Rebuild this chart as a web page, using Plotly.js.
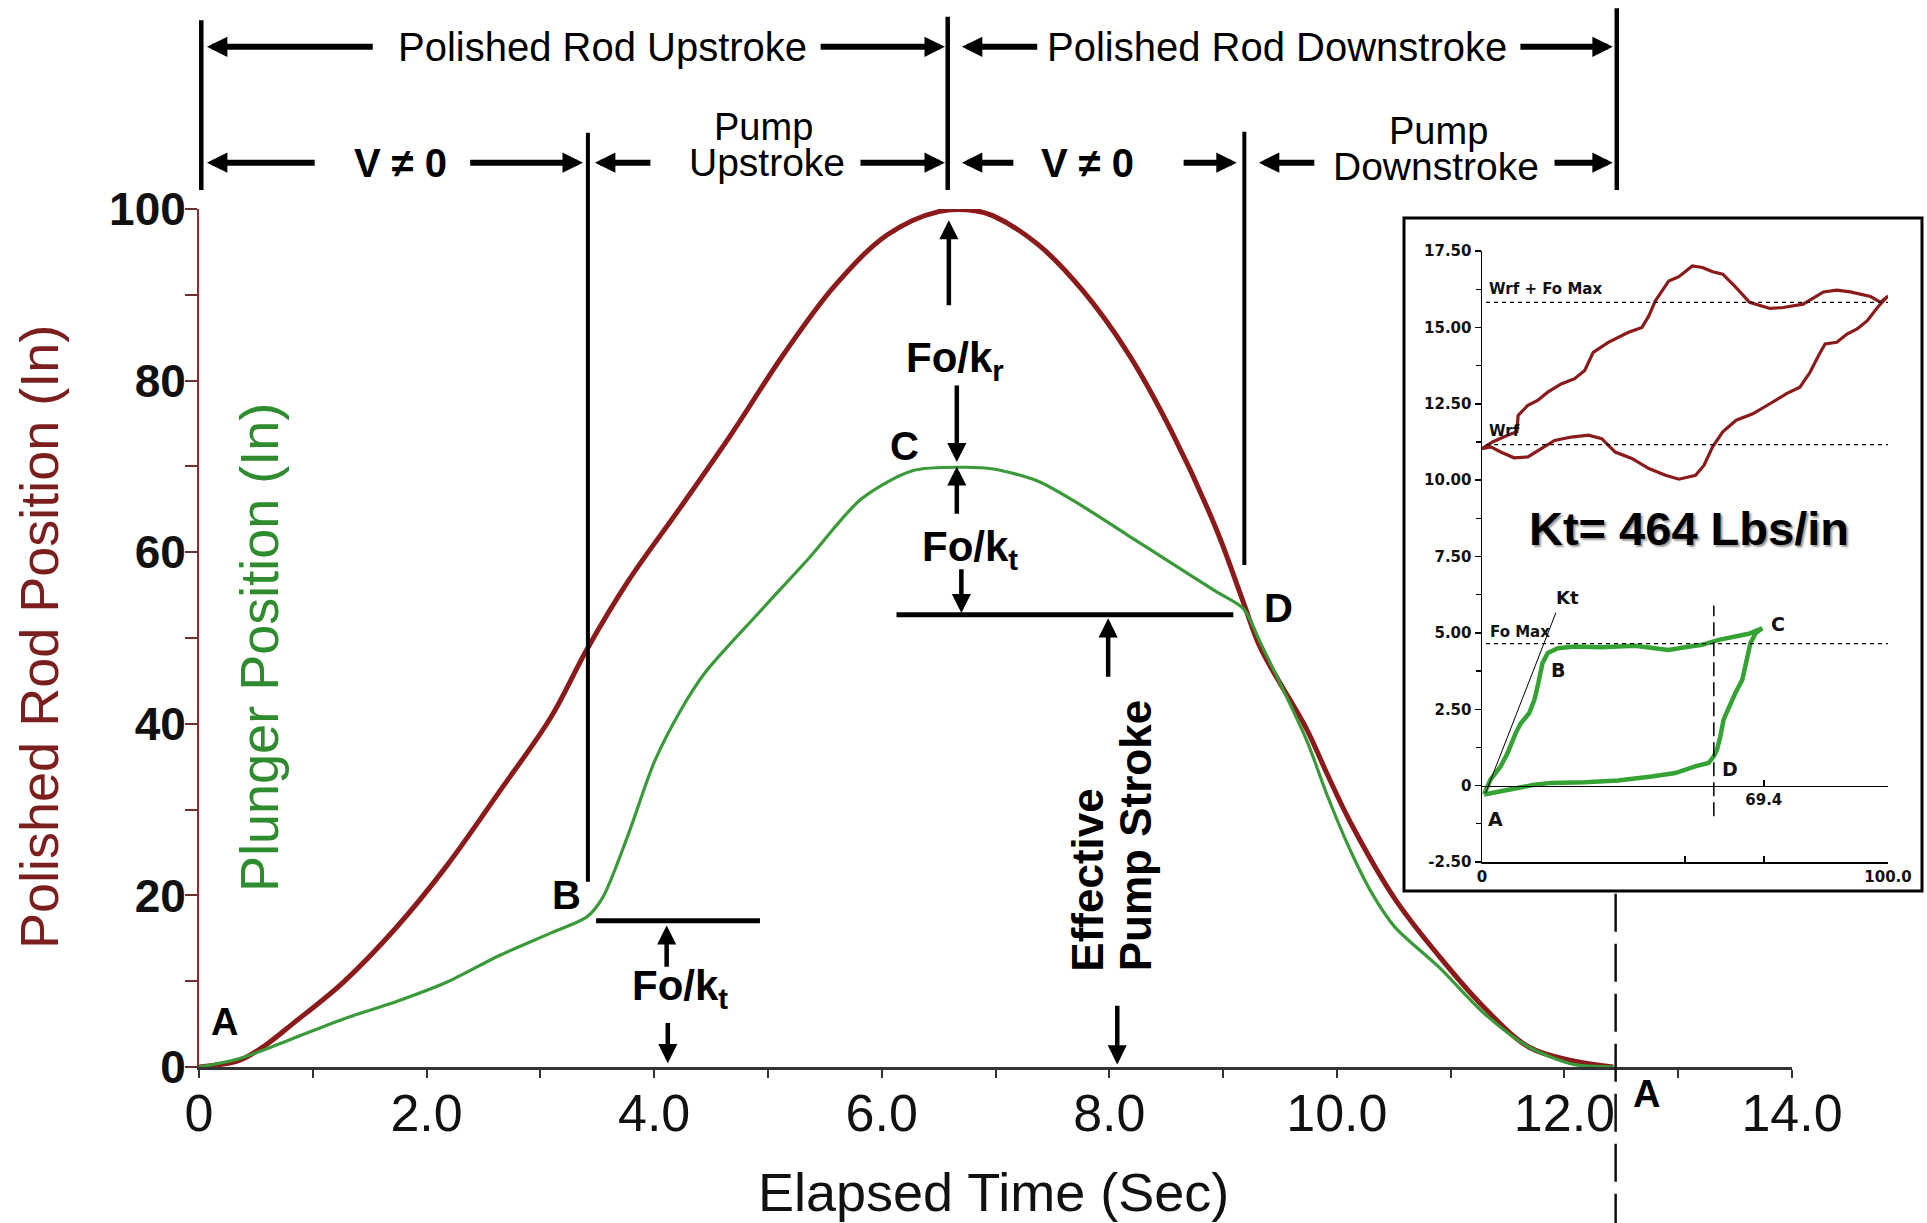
<!DOCTYPE html>
<html><head><meta charset="utf-8">
<script src="https://cdn.plot.ly/plotly-3.0.1.min.js"></script>
<style>html,body{margin:0;padding:0;background:#fff}#chart{width:1927px;height:1223px}</style>
</head><body><div id="chart"></div>
<script>
// ---------- main chart data ----------
const rodTime = [0, 0.36, 0.59, 0.82, 1.27, 1.73, 2.18, 2.64, 3.09, 3.41, 3.77, 4.23, 4.68, 5.14, 5.59, 6.05, 6.5, 6.82, 6.98, 7.37, 7.76, 8.16, 8.55, 8.94, 9.18, 9.33, 9.73, 9.92, 10.12, 10.51, 10.9, 11.29, 11.69, 12.08, 12.43];
const rodPosition = [0, 0.8, 2.6, 5.0, 9.9, 16.2, 23.5, 32.1, 40.7, 48.7, 56.6, 65.2, 73.8, 83.1, 91.1, 97.0, 99.7, 99.8, 99.2, 95.9, 90.6, 83.3, 74.0, 62.7, 54.1, 48.8, 39.5, 34.0, 28.5, 19.6, 12.9, 7.0, 2.3, 0.7, 0];
const plungerTime = [0, 0.36, 0.82, 1.27, 1.73, 2.18, 2.64, 3.09, 3.41, 3.55, 3.77, 4.0, 4.23, 4.45, 4.91, 5.36, 5.82, 6.27, 6.73, 6.98, 7.37, 7.76, 8.16, 8.55, 8.94, 9.18, 9.33, 9.73, 9.92, 10.12, 10.31, 10.51, 10.9, 11.29, 11.69, 12.08, 12.43];
const plungerPosition = [0, 1.0, 3.3, 5.6, 7.6, 9.9, 13.0, 15.6, 17.5, 19.8, 27.0, 35.5, 41.5, 46.0, 52.8, 59.3, 66.2, 69.5, 69.9, 69.7, 68.3, 65.4, 62.0, 58.7, 55.4, 53.4, 49.4, 38.2, 31.5, 25.2, 20.2, 16.3, 11.6, 6.3, 2.3, 0.3, 0];
const xTickVals = [0, 2, 4, 6, 8, 10, 12, 14];
const xTickText = ['0', '2.0', '4.0', '6.0', '8.0', '10.0', '12.0', '14.0'];
const yTickVals = [0, 20, 40, 60, 80, 100];

// ---------- inset (dynamometer cards) data ----------
const surfaceUpX = [0, 2.6, 6.3, 8.6, 8.9, 11.3, 13.7, 16.2, 19.5, 22.8, 25.3, 27.4, 31.1, 36.1, 39.4, 41.1, 42.7, 46.0, 48.5, 51.8, 54.3, 56.8, 59.3, 62.6, 65.9, 70.9, 74.2, 79.1, 84.1, 87.4, 90.7, 95.7, 98.2, 100];
const surfaceUpLoad = [11.03, 11.25, 11.47, 11.58, 12.12, 12.45, 12.61, 12.88, 13.15, 13.32, 13.59, 14.18, 14.51, 14.84, 15.0, 15.38, 15.87, 16.52, 16.66, 17.01, 16.96, 16.82, 16.74, 16.3, 15.82, 15.62, 15.65, 15.76, 16.16, 16.22, 16.16, 16.01, 15.82, 16.03];
const surfaceDownX = [100, 97.4, 94.9, 92.4, 89.9, 87.4, 84.5, 82.9, 80.8, 78.3, 75.0, 70.9, 66.7, 62.6, 59.3, 56.8, 54.7, 52.6, 48.5, 45.2, 41.1, 36.9, 32.8, 29.5, 26.2, 22.0, 17.9, 14.6, 11.3, 7.9, 4.6, 2.2, 0];
const surfaceDownLoad = [16.03, 15.65, 15.22, 14.95, 14.78, 14.51, 14.46, 14.08, 13.53, 13.04, 12.83, 12.5, 12.17, 11.96, 11.58, 11.09, 10.49, 10.16, 10.03, 10.16, 10.38, 10.71, 10.92, 11.36, 11.47, 11.41, 11.3, 11.03, 10.76, 10.73, 10.92, 11.09, 11.03];
const pumpX = [0.5, 2.1, 4.6, 6.3, 8.3, 9.6, 11.6, 12.9, 13.7, 14.5, 14.9, 16.2, 18.7, 22.8, 29.4, 37.7, 42.6, 45.9, 50.0, 54.2, 58.3, 62.4, 65.7, 69.0, 67.4, 66.1, 64.9, 64.1, 62.4, 60.8, 59.5, 58.7, 57.9, 57.1, 55.8, 52.5, 47.6, 41.8, 33.5, 25.3, 17.0, 12.9, 6.3, 0.5];
const pumpLoad = [-0.29, 0.2, 0.63, 1.07, 1.72, 2.05, 2.37, 2.81, 3.25, 3.68, 4.01, 4.34, 4.5, 4.55, 4.53, 4.58, 4.5, 4.44, 4.53, 4.61, 4.77, 4.88, 4.97, 5.15, 4.99, 4.66, 3.9, 3.46, 3.03, 2.59, 2.16, 1.61, 1.18, 0.96, 0.74, 0.63, 0.41, 0.3, 0.17, 0.11, 0.09, 0.03, -0.13, -0.29];
const insetYTickVals = [-2.5, 0, 2.5, 5, 7.5, 10, 12.5, 15, 17.5];
const insetYTickText = ['-2.50', '0', '2.50', '5.00', '7.50', '10.00', '12.50', '15.00', '17.50'];
const wrfLoad = 11.16, wrfFoMaxLoad = 15.82, foMaxLoad = 4.65;
const effectiveStrokeStart = 57.1, effectiveStrokeLabel = 69.4;

// ---------- layout geometry ----------
const W = 1927, H = 1223;
const xDom = [199 / W, 1792 / W];
const yDom = [1 - 1067 / H, 1 - 209 / H];
const x2Dom = [1482 / W, 1888 / W];
const y2Dom = [1 - 862 / H, 1 - 251 / H];
const vp = v => yDom[0] + v / 100 * (yDom[1] - yDom[0]);
const zeroPos = y2Dom[0] + 2.5 / 20 * (y2Dom[1] - y2Dom[0]);

const RED = '#8B1A1A', GREEN = '#3A9A3A', INSET_GREEN = '#34A334';
const SANS = 'Liberation Sans, Arial, sans-serif';
const DJ = 'DejaVu Sans, Verdana, sans-serif';

const traces = [
  {x: rodTime, y: rodPosition, mode: 'lines', line: {color: RED, width: 5, shape: 'spline', smoothing: 1}, hoverinfo: 'skip'},
  {x: plungerTime, y: plungerPosition, mode: 'lines', line: {color: GREEN, width: 3.2, shape: 'spline', smoothing: 0.8}, hoverinfo: 'skip'},
  {x: surfaceUpX.concat(surfaceDownX), y: surfaceUpLoad.concat(surfaceDownLoad), xaxis: 'x2', yaxis: 'y2', mode: 'lines', line: {color: RED, width: 3.2}, hoverinfo: 'skip'},
  {x: pumpX, y: pumpLoad, xaxis: 'x2', yaxis: 'y2', mode: 'lines', line: {color: INSET_GREEN, width: 4.5}, hoverinfo: 'skip'},
  {x: [], y: [], xaxis: 'x3', yaxis: 'y2', mode: 'lines', hoverinfo: 'skip'}
];

function txt(t, v, text, size, extra) {
  return Object.assign({xref: 'x', yref: 'paper', x: t, y: vp(v), text: text, showarrow: false,
    xanchor: 'center', yanchor: 'middle',
    font: {family: SANS, size: size, color: '#000'}}, extra || {});
}
function bold(t, v, text, size, extra) {
  const a = txt(t, v, text, size, extra);
  a.font.weight = 'bold';
  return a;
}
function hArrow(headT, tailT, v) {
  return {xref: 'x', yref: 'paper', x: headT, y: vp(v), axref: 'x', ax: tailT, ayref: 'pixel', ay: 0,
    text: '', showarrow: true, arrowhead: 2, arrowsize: 0.68, arrowwidth: 6, arrowcolor: '#000', standoff: 0, startstandoff: 0};
}
function vArrow(t, headV, tailV) {
  return {xref: 'x', yref: 'y', x: t, y: headV, axref: 'x', ax: t, ayref: 'y', ay: tailV,
    text: '', showarrow: true, arrowhead: 2, arrowsize: 0.85, arrowwidth: 4.5, arrowcolor: '#000', standoff: 0, startstandoff: 0};
}
function vLine(t, v0, v1, w) {
  return {type: 'line', xref: 'x', yref: 'paper', x0: t, x1: t, y0: vp(v0), y1: vp(v1), line: {color: '#000', width: w || 4.5}};
}
function it(x, y, text, size, extra) {
  return Object.assign({xref: 'x2', yref: 'y2', x: x, y: y, text: text, showarrow: false,
    xanchor: 'center', yanchor: 'middle',
    font: {family: DJ, size: size, color: '#111', weight: 'bold'}}, extra || {});
}
function paperTxt(px, py, text, size, color, extra) {
  return Object.assign({xref: 'paper', yref: 'paper', x: px / W, y: 1 - py / H, text: text, showarrow: false,
    xanchor: 'center', yanchor: 'middle',
    font: {family: SANS, size: size, color: color}}, extra || {});
}

const annotations = [
  // top brackets
  txt(3.55, 118.9, 'Polished Rod Upstroke', 40),
  txt(9.47, 118.9, 'Polished Rod Downstroke', 40),
  hArrow(0.07, 1.54, 118.9), hArrow(6.555, 5.45, 118.9),
  hArrow(6.705, 7.38, 118.9), hArrow(12.425, 11.6, 118.9),
  bold(1.77, 105.4, 'V ≠ 0', 40),
  bold(7.81, 105.4, 'V ≠ 0', 40),
  txt(4.965, 109.6, 'Pump', 38), txt(4.99, 105.4, 'Upstroke', 39),
  txt(10.89, 109.1, 'Pump', 38), txt(10.87, 104.9, 'Downstroke', 39),
  hArrow(0.07, 1.03, 105.4), hArrow(3.374, 2.37, 105.4),
  hArrow(3.48, 3.98, 105.4), hArrow(6.555, 5.8, 105.4),
  hArrow(6.705, 7.17, 105.4), hArrow(9.12, 8.64, 105.4),
  hArrow(9.315, 9.815, 105.4), hArrow(12.425, 11.9, 105.4),
  // in-plot arrows and labels
  vArrow(6.59, 98.7, 88.6),
  bold(6.64, 82.4, 'Fo/k<sub>r</sub>', 42),
  vArrow(6.66, 70.5, 79.6),
  bold(6.2, 72.4, 'C', 40),
  vArrow(6.66, 70.0, 64.3),
  bold(6.78, 60.3, 'Fo/k<sub>t</sub>', 42),
  vArrow(6.70, 52.9, 58.2),
  bold(9.49, 53.5, 'D', 40),
  vArrow(7.99, 52.3, 45.3),
  bold(7.81, 21.8, 'Effective', 44, {textangle: -90}),
  bold(8.225, 27.0, 'Pump Stroke', 44, {textangle: -90}),
  vArrow(8.07, 0.3, 7.3),
  bold(3.23, 20.0, 'B', 40),
  vArrow(4.11, 16.5, 11.5),
  bold(4.23, 9.1, 'Fo/k<sub>t</sub>', 42),
  vArrow(4.12, 0.45, 5.3),
  bold(0.22, 5.2, 'A', 38),
  bold(12.72, -3.1, 'A', 38),
  // axis titles
  paperTxt(993, 1192, 'Elapsed Time (Sec)', 54, '#111'),
  paperTxt(39, 637, 'Polished Rod Position (In)', 54, '#7A1E1E', {textangle: -90}),
  paperTxt(259, 648, 'Plunger Position (In)', 54, '#2E8B2E', {textangle: -90}),
  // inset labels
  it(1.3, 16.25, 'Wrf + Fo Max', 15, {xanchor: 'left'}),
  it(1.3, 11.6, 'Wrf', 15, {xanchor: 'left'}),
  it(1.5, 5.04, 'Fo Max', 15, {xanchor: 'left'}),
  it(21.1, 6.17, 'Kt', 18),
  it(18.7, 3.8, 'B', 19),
  it(73.0, 5.3, 'C', 19),
  it(61.2, 0.55, 'D', 19),
  it(3.4, -1.1, 'A', 19),
  {xref: 'x2', yref: 'y2', x: 51, y: 8.42, text: 'Kt= 464 Lbs/in', showarrow: false, xanchor: 'center', yanchor: 'middle',
   font: {family: SANS, size: 47, color: '#000', weight: 'bold', shadow: '2px 2px 2px #999'}}
];

const shapes = [
  // inset frame (behind everything)
  {type: 'rect', xref: 'paper', yref: 'paper', x0: 1404 / W, x1: 1922 / W, y0: 1 - 891 / H, y1: 1 - 218 / H,
   fillcolor: '#fff', line: {color: '#000', width: 3}, layer: 'below'},
  // bracket verticals
  vLine(0.02, 122.0, 102.2), vLine(6.58, 122.4, 102.2), vLine(12.46, 123.4, 102.2),
  vLine(3.418, 108.9, 21.6, 4), vLine(9.187, 109.0, 58.5, 4),
  // horizontal bars
  {type: 'line', xref: 'x', yref: 'y', x0: 6.13, x1: 9.09, y0: 52.7, y1: 52.7, line: {color: '#000', width: 5}},
  {type: 'line', xref: 'x', yref: 'y', x0: 3.49, x1: 4.93, y0: 17.05, y1: 17.05, line: {color: '#000', width: 5}},
  // end of cycle dashed marker
  {type: 'line', xref: 'x', yref: 'paper', x0: 12.45, x1: 12.45, y0: vp(20.2), y1: vp(-18.2),
   line: {color: '#111', width: 2.5, dash: '38px,12px'}},
  // inset reference lines
  {type: 'line', xref: 'x2', yref: 'y2', x0: 1, x1: 100, y0: wrfFoMaxLoad, y1: wrfFoMaxLoad, line: {color: '#000', width: 1.3, dash: '4px,4px'}},
  {type: 'line', xref: 'x2', yref: 'y2', x0: 1, x1: 100, y0: wrfLoad, y1: wrfLoad, line: {color: '#000', width: 1.3, dash: '4px,4px'}},
  {type: 'line', xref: 'x2', yref: 'y2', x0: 1, x1: 100, y0: foMaxLoad, y1: foMaxLoad, line: {color: '#000', width: 1.3, dash: '4px,4px'}},
  {type: 'line', xref: 'x2', yref: 'y2', x0: 0.9, x1: 18.2, y0: -0.24, y1: 5.66, line: {color: '#000', width: 1}},
  {type: 'line', xref: 'x2', yref: 'y2', x0: effectiveStrokeStart, x1: effectiveStrokeStart, y0: -1.0, y1: 5.9,
   line: {color: '#000', width: 1.5, dash: '14px,6px'}}
];

const layout = {
  width: W, height: H, autosize: false,
  margin: {l: 0, r: 0, t: 0, b: 0, pad: 0},
  paper_bgcolor: '#fff', plot_bgcolor: 'rgba(0,0,0,0)',
  showlegend: false,
  font: {family: SANS, color: '#000'},
  xaxis: {domain: xDom, range: [0, 14], anchor: 'y', showgrid: false, zeroline: false,
    tickmode: 'array', tickvals: xTickVals, ticktext: xTickText,
    ticks: 'outside', ticklen: 8, tickwidth: 2, tickcolor: '#333', ticklabelstandoff: -9,
    minor: {tickmode: 'linear', tick0: 0, dtick: 1, ticks: 'outside', ticklen: 8, tickwidth: 2, tickcolor: '#333'},
    showline: true, linecolor: '#333', linewidth: 3,
    tickfont: {family: SANS, size: 52, color: '#111'}},
  yaxis: {domain: yDom, range: [0, 100], anchor: 'x', showgrid: false, zeroline: false,
    tickmode: 'array', tickvals: yTickVals,
    ticks: 'outside', ticklen: 12, tickwidth: 2, tickcolor: '#6B3030', ticklabelstandoff: -10,
    minor: {tickmode: 'linear', tick0: 0, dtick: 10, ticks: 'outside', ticklen: 12, tickwidth: 2, tickcolor: '#6B3030'},
    showline: true, linecolor: '#8B2A2A', linewidth: 2,
    tickfont: {family: SANS, size: 46, color: '#111', weight: 'bold'}},
  xaxis2: {domain: x2Dom, range: [0, 100], anchor: 'y2', showgrid: false, zeroline: false,
    tickmode: 'array', tickvals: [0, 50, effectiveStrokeLabel, 100], ticktext: ['0', '', '', '100.0'],
    ticks: 'inside', ticklen: 6, tickwidth: 1.5, tickcolor: '#000',
    showline: true, linecolor: '#000', linewidth: 1.5,
    tickfont: {family: DJ, size: 15, color: '#111', weight: 'bold'}},
  xaxis3: {domain: x2Dom, range: [0, 100], overlaying: 'x2', anchor: 'free', position: zeroPos,
    showgrid: false, zeroline: false, side: 'bottom',
    tickmode: 'array', tickvals: [effectiveStrokeLabel, 100], ticktext: [String(effectiveStrokeLabel), ''],
    ticks: 'inside', ticklen: 6, tickwidth: 1.5, tickcolor: '#000',
    showline: true, linecolor: '#000', linewidth: 1.5,
    tickfont: {family: DJ, size: 15, color: '#111', weight: 'bold'}},
  yaxis2: {domain: y2Dom, range: [-2.5, 17.5], anchor: 'x2', showgrid: false, zeroline: false,
    tickmode: 'array', tickvals: insetYTickVals, ticktext: insetYTickText,
    ticks: 'outside', ticklen: 6, tickwidth: 1.5, tickcolor: '#000',
    minor: {tickmode: 'linear', tick0: 0, dtick: 1.25, ticks: 'outside', ticklen: 5, tickwidth: 1.2, tickcolor: '#000'},
    showline: true, linecolor: '#000', linewidth: 1.5,
    tickfont: {family: DJ, size: 15, color: '#111', weight: 'bold'}},
  annotations: annotations,
  shapes: shapes
};

Plotly.newPlot('chart', traces, layout, {displayModeBar: false, staticPlot: true});
</script>
</body></html>
